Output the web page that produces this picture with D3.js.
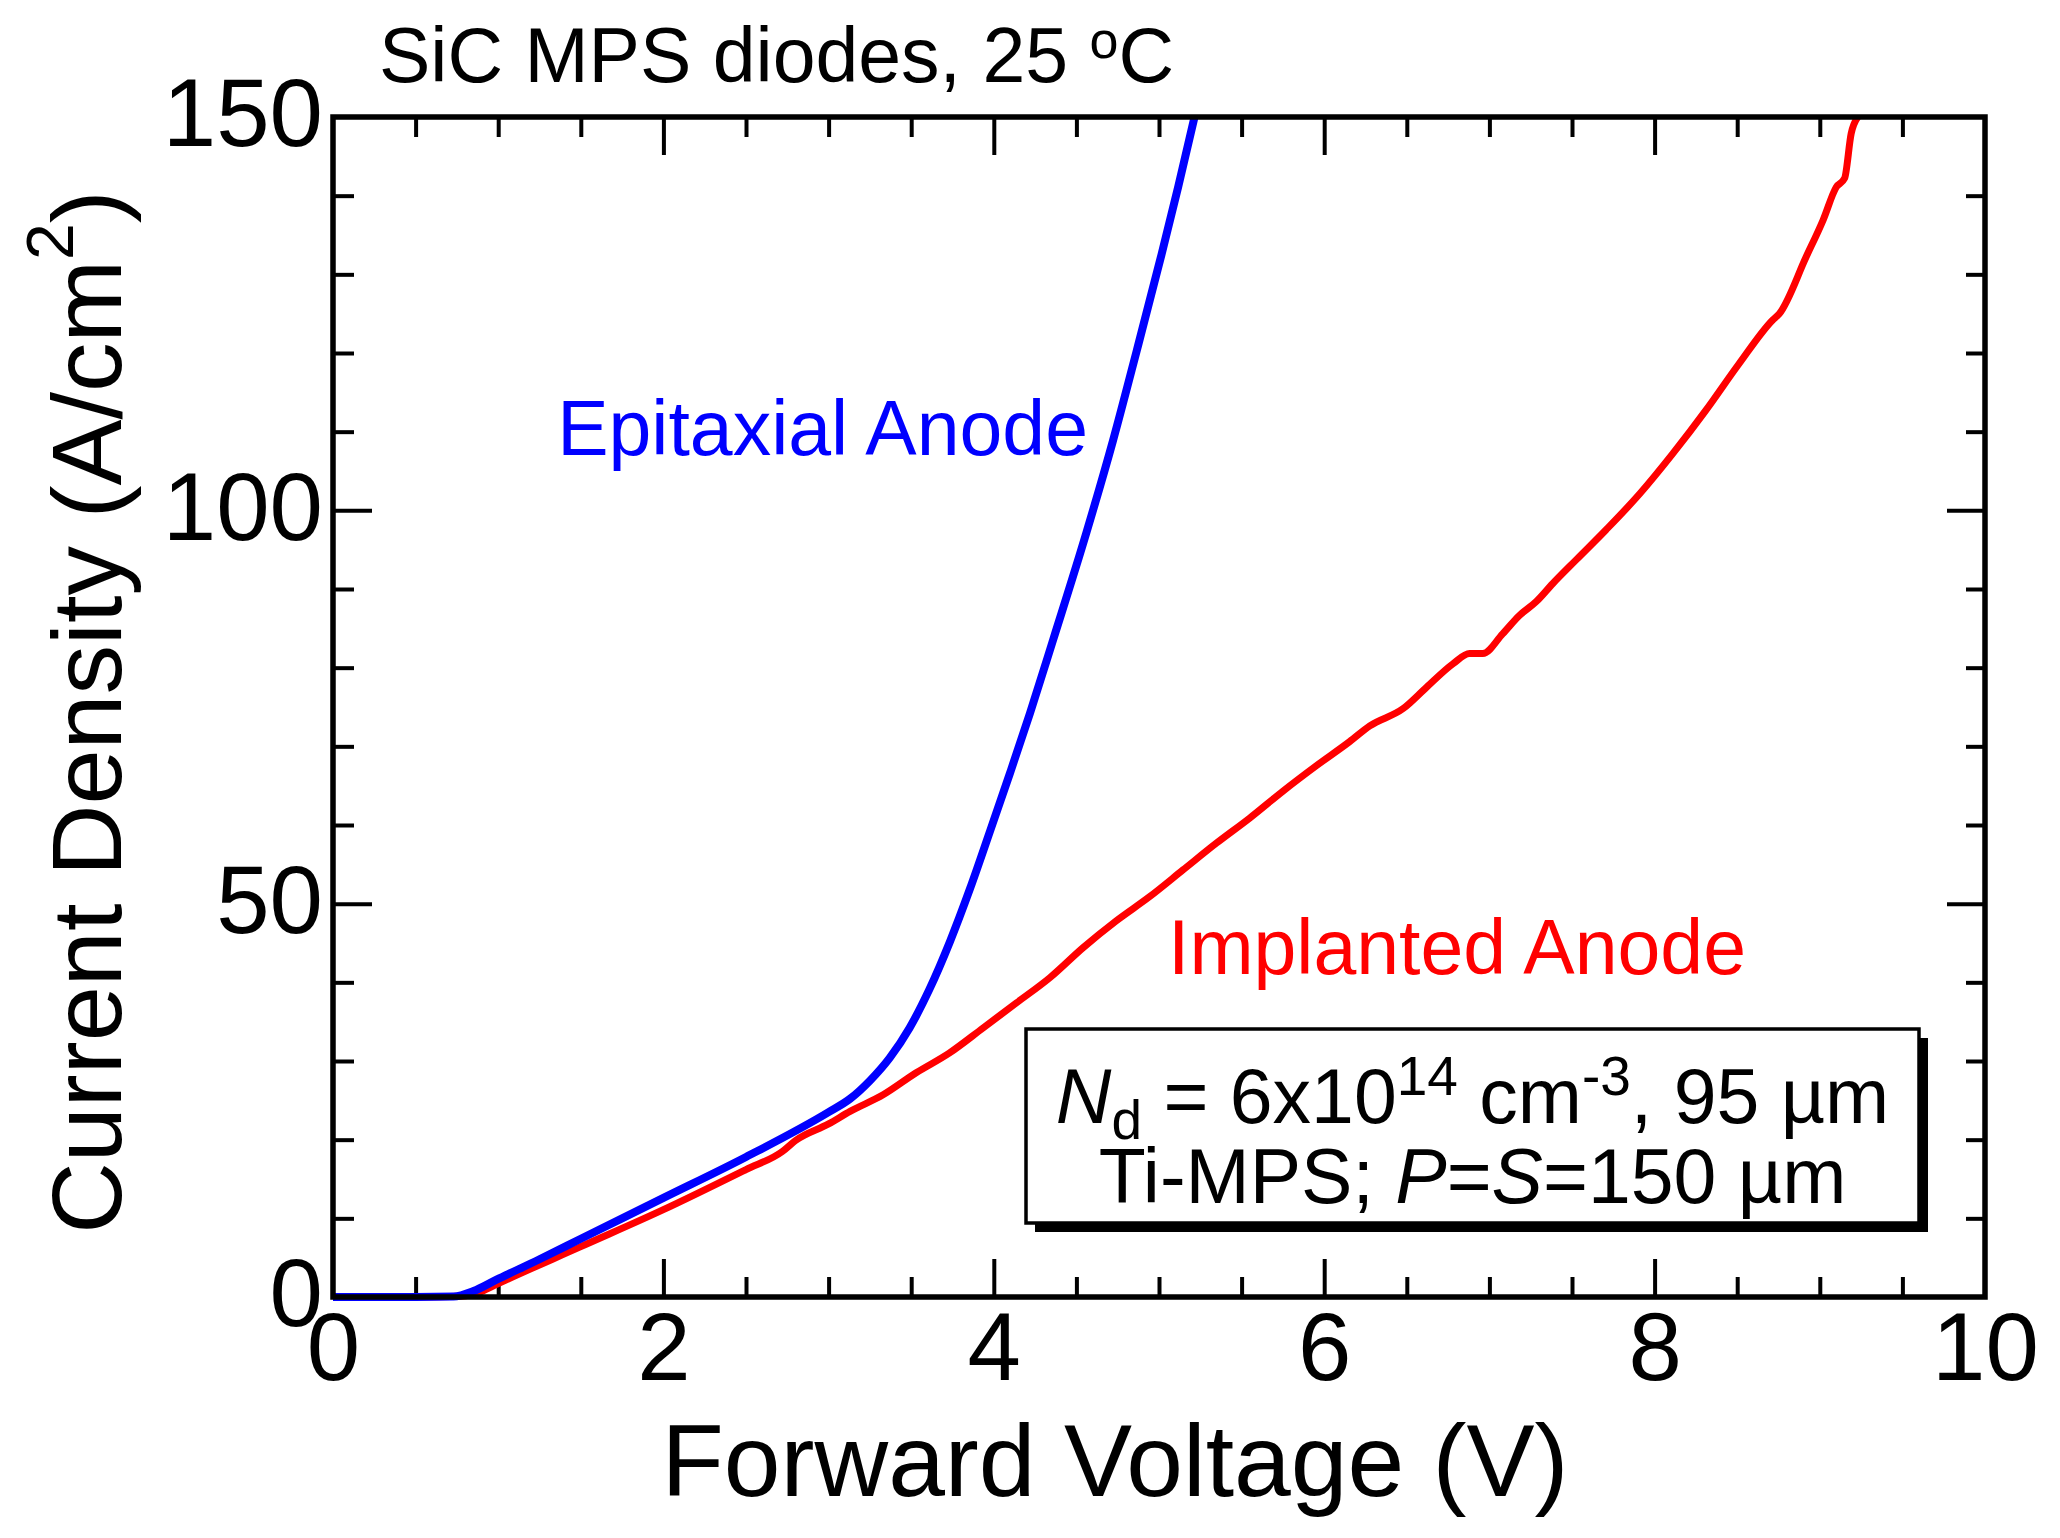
<!DOCTYPE html>
<html lang="en">
<head>
    <meta charset="UTF-8">
    <title>SiC MPS diodes - forward J-V</title>
    <script src="https://d3js.org/d3.v7.min.js"></script>
    <style>
        body { margin: 0; background: white; }
        text { font-family: "Liberation Sans", Arial, sans-serif; }
    </style>
</head>
<body>
    <div id="chart"></div>
    <script>
        // forward voltage (V) and current density (A/cm2)
        var epiV = [0, 0.5, 0.73, 0.85, 0.99, 1.25, 1.5, 2.0, 2.5, 3.0, 3.13, 3.25, 3.37, 3.49, 3.61,
                    3.735, 3.856, 3.977, 4.098, 4.219, 4.36, 4.561, 4.722, 4.864, 5.015, 5.116, 5.215];
        var epiJ = [0, 0, 0.05, 0.75, 2.2, 4.8, 7.4, 12.6, 17.8, 23.5, 25.2, 27.5, 30.4, 34.2, 39.1,
                    45.2, 51.9, 59.2, 66.6, 74.2, 83.6, 97.2, 108.9, 120.2, 132.5, 141.1, 150];

        var implV = [0, 0.5, 0.78, 0.9, 0.99, 1.5, 2.0, 2.5, 2.72, 2.8, 3.0, 3.13, 3.33, 3.53, 3.73,
                     3.935, 4.138, 4.34, 4.54, 4.74, 4.944, 5.146, 5.348, 5.55, 5.75, 5.95, 6.154, 6.276,
                     6.478, 6.619, 6.78, 6.88, 6.96, 7.08, 7.18, 7.284, 7.384, 7.525, 7.705, 7.91, 8.11,
                     8.31, 8.51, 8.715, 8.755, 8.917, 9.02, 9.10, 9.15, 9.19, 9.23];
        var implJ = [0, 0, 0.1, 0.7, 1.6, 6.4, 11.1, 16.2, 18.5, 19.9, 22.0, 23.6, 25.7, 28.5, 31.0,
                     34.2, 37.4, 40.6, 44.4, 47.8, 50.9, 54.3, 57.7, 60.9, 64.3, 67.5, 70.6, 72.6,
                     74.8, 77.5, 80.5, 81.8, 81.8, 84.3, 86.6, 88.4, 90.7, 93.7, 97.5, 102.1, 107.2,
                     112.7, 118.6, 124.2, 125.0, 132.2, 136.9, 141.1, 142.2, 147.9, 150];

        var xMajor = [0, 2, 4, 6, 8, 10];
        var xMinor = [0.5, 1, 1.5, 2.5, 3, 3.5, 4.5, 5, 5.5, 6.5, 7, 7.5, 8.5, 9, 9.5];
        var yMajor = [0, 50, 100, 150];
        var yMinor = [10, 20, 30, 40, 60, 70, 80, 90, 110, 120, 130, 140];

        var W = 2060, H = 1538;
        // plot area edges (note: "top" is reserved by the browser, so px prefix)
        var pxLeft = 333, pxTop = 117, pxRight = 1985, pxBottom = 1297;

        var x = d3.scaleLinear().domain([0, 10]).range([pxLeft, pxRight]);
        var y = d3.scaleLinear().domain([0, 150]).range([pxBottom, pxTop]);

        var svg = d3.select("#chart")
                    .append("svg")
                    .attr("width", W)
                    .attr("height", H);

        // ticks, all pointing into the plot
        function drawTicks(axis, tx, ty) {
            var g = svg.append("g")
                       .attr("transform", "translate(" + tx + "," + ty + ")")
                       .call(axis);
            g.select(".domain").remove();
            g.selectAll("line").attr("stroke", "black").attr("stroke-width", 4);
            return g;
        }

        var gx = drawTicks(d3.axisBottom(x).tickValues(xMajor).tickSizeInner(-38).tickSizeOuter(0).tickPadding(15), 0, pxBottom);
        drawTicks(d3.axisBottom(x).tickValues(xMinor).tickSizeInner(-20).tickSizeOuter(0).tickFormat(""), 0, pxBottom);
        drawTicks(d3.axisTop(x).tickValues(xMajor.slice(1, -1)).tickSizeInner(-38).tickSizeOuter(0).tickFormat(""), 0, pxTop);
        drawTicks(d3.axisTop(x).tickValues(xMinor).tickSizeInner(-20).tickSizeOuter(0).tickFormat(""), 0, pxTop);

        var gy = drawTicks(d3.axisLeft(y).tickValues(yMajor).tickSizeInner(-39).tickSizeOuter(0).tickPadding(10), pxLeft, 0);
        drawTicks(d3.axisLeft(y).tickValues(yMinor).tickSizeInner(-21).tickSizeOuter(0).tickFormat(""), pxLeft, 0);
        drawTicks(d3.axisRight(y).tickValues(yMajor.slice(1, -1)).tickSizeInner(-38).tickSizeOuter(0).tickFormat(""), pxRight, 0);
        drawTicks(d3.axisRight(y).tickValues(yMinor).tickSizeInner(-19).tickSizeOuter(0).tickFormat(""), pxRight, 0);

        gx.selectAll("line").filter(function(d) { return d === 0 || d === 10; }).remove();
        gy.selectAll("line").filter(function(d) { return d === 0 || d === 150; }).remove();

        gx.selectAll("text")
          .attr("font-size", 96)
          .attr("font-family", "Liberation Sans, Arial, sans-serif")
          .attr("fill", "black");
        gy.selectAll("text")
          .attr("font-size", 96)
          .attr("font-family", "Liberation Sans, Arial, sans-serif")
          .attr("fill", "black")
          .attr("dy", "0.3em");

        // curves
        var line = d3.line()
                     .x(function(d) { return x(d[0]); })
                     .y(function(d) { return y(d[1]); })
                     .curve(d3.curveMonotoneX);

        svg.append("path")
           .datum(d3.zip(implV, implJ))
           .attr("d", line)
           .attr("fill", "none")
           .attr("stroke", "#ff0000")
           .attr("stroke-width", 7)
           .attr("stroke-linejoin", "round");

        svg.append("path")
           .datum(d3.zip(epiV, epiJ))
           .attr("d", line)
           .attr("fill", "none")
           .attr("stroke", "#0000ff")
           .attr("stroke-width", 8)
           .attr("stroke-linejoin", "round");

        // frame
        svg.append("rect")
           .attr("x", pxLeft)
           .attr("y", pxTop)
           .attr("width", pxRight - pxLeft)
           .attr("height", pxBottom - pxTop)
           .attr("fill", "none")
           .attr("stroke", "black")
           .attr("stroke-width", 5.5);

        // title and axis titles
        var title = svg.append("text")
                       .attr("x", 379)
                       .attr("y", 82)
                       .attr("font-size", 77);
        title.append("tspan").text("SiC MPS diodes, 25 ");
        title.append("tspan").attr("font-size", 52).attr("dy", -24).text("o");
        title.append("tspan").attr("dy", 24).text("C");

        svg.append("text")
           .attr("x", 1115)
           .attr("y", 1496)
           .attr("text-anchor", "middle")
           .attr("font-size", 102)
           .text("Forward Voltage (V)");

        var ytitle = svg.append("text")
                        .attr("transform", "translate(121,712) rotate(-90)")
                        .attr("text-anchor", "middle")
                        .attr("font-size", 99);
        ytitle.append("tspan").text("Current Density (A/cm");
        ytitle.append("tspan").attr("font-size", 66).attr("dy", -48).text("2");
        ytitle.append("tspan").attr("dy", 48).text(")");

        // curve labels
        svg.append("text")
           .attr("x", 1088)
           .attr("y", 455)
           .attr("text-anchor", "end")
           .attr("font-size", 77)
           .attr("fill", "#0000ff")
           .text("Epitaxial Anode");

        svg.append("text")
           .attr("x", 1168)
           .attr("y", 974)
           .attr("font-size", 77)
           .attr("fill", "#ff0000")
           .text("Implanted Anode");

        // parameter box with shadow
        var bx = 1026, by = 1029, bw = 893, bh = 194;
        svg.append("rect")
           .attr("x", bx + 9).attr("y", by + 9)
           .attr("width", bw).attr("height", bh)
           .attr("fill", "black");
        svg.append("rect")
           .attr("x", bx).attr("y", by)
           .attr("width", bw).attr("height", bh)
           .attr("fill", "white")
           .attr("stroke", "black")
           .attr("stroke-width", 3.5);

        var l1 = svg.append("text")
                    .attr("x", bx + bw / 2)
                    .attr("y", 1123)
                    .attr("text-anchor", "middle")
                    .attr("font-size", 77);
        l1.append("tspan").attr("font-style", "italic").text("N");
        l1.append("tspan").attr("font-size", 55).attr("dy", 16).text("d");
        l1.append("tspan").attr("dy", -16).text(" = 6x10");
        l1.append("tspan").attr("font-size", 55).attr("dy", -28).text("14");
        l1.append("tspan").attr("dy", 28).text(" cm");
        l1.append("tspan").attr("font-size", 55).attr("dy", -28).text("-3");
        l1.append("tspan").attr("dy", 28).text(", 95 \u00b5m");

        var l2 = svg.append("text")
                    .attr("x", bx + bw / 2)
                    .attr("y", 1203)
                    .attr("text-anchor", "middle")
                    .attr("font-size", 77);
        l2.append("tspan").text("Ti-MPS; ");
        l2.append("tspan").attr("font-style", "italic").text("P");
        l2.append("tspan").text("=");
        l2.append("tspan").attr("font-style", "italic").text("S");
        l2.append("tspan").text("=150 \u00b5m");
    </script>
</body>
</html>
